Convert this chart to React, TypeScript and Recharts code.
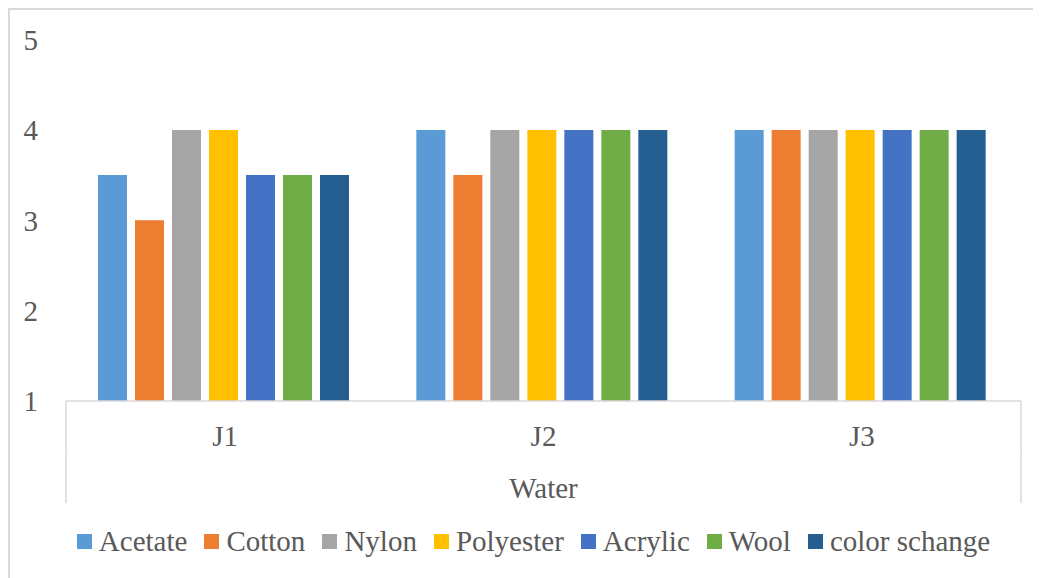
import React from 'react';
import { BarChart, Bar, XAxis, YAxis, Legend } from 'recharts';

// Grey-scale rating per fabric, grouped by test series
const categories = ['J1', 'J2', 'J3'];
const groupLabel = 'Water';
const acetate = [3.5, 4, 4];
const cotton = [3, 3.5, 4];
const nylon = [4, 4, 4];
const polyester = [4, 4, 4];
const acrylic = [3.5, 4, 4];
const wool = [3.5, 4, 4];
const colorChange = [3.5, 4, 4];
const yTicks = [1, 2, 3, 4, 5];

const series = [
  { key: 'Acetate', values: acetate, color: '#5B9BD5' },
  { key: 'Cotton', values: cotton, color: '#ED7D31' },
  { key: 'Nylon', values: nylon, color: '#A5A5A5' },
  { key: 'Polyester', values: polyester, color: '#FFC000' },
  { key: 'Acrylic', values: acrylic, color: '#4472C4' },
  { key: 'Wool', values: wool, color: '#70AD47' },
  { key: 'color schange', values: colorChange, color: '#255E91' },
];

const data = categories.map((cat, i) => {
  const row: Record<string, string | number> = { cat };
  series.forEach((s) => {
    row[s.key] = s.values[i];
  });
  return row;
});

const FONT = 'Liberation Serif, serif';
const FONT_SIZE = 29;
const TEXT = '#595959';
const LINE = '#d9d9d9';

// Two-level category axis: series label, group label and the enclosing frame
const CategoryTick = (props: any) => {
  const { x, y, payload, index, visibleTicksCount } = props;
  const half = payload && payload.offset ? payload.offset : 0;
  const last = (visibleTicksCount || categories.length) - 1;
  return (
    <g>
      <text x={x} y={y + 35} textAnchor="middle" dominantBaseline="central" fill={TEXT} fontSize={FONT_SIZE} fontFamily={FONT}>
        {payload.value}
      </text>
      {index === Math.floor(last / 2) && (
        <text x={x} y={y + 87} textAnchor="middle" dominantBaseline="central" fill={TEXT} fontSize={FONT_SIZE} fontFamily={FONT}>
          {groupLabel}
        </text>
      )}
      {index === 0 && (
        <g>
          <line x1={x - half} y1={y} x2={x - half} y2={y + 102} stroke={LINE} strokeWidth={1.5} />
          <line x1={x - half} y1={y + 51} x2={x - half + 3} y2={y + 51} stroke="#eeeeee" strokeWidth={1} />
        </g>
      )}
      {index === last && (
        <g>
          <line x1={x + half} y1={y} x2={x + half} y2={y + 102} stroke={LINE} strokeWidth={1.5} />
          <line x1={x + half} y1={y + 51} x2={x + half - 3} y2={y + 51} stroke="#eeeeee" strokeWidth={1} />
        </g>
      )}
    </g>
  );
};

const LegendContent = () => (
  <div
    style={{
      height: 50,
      display: 'flex',
      alignItems: 'center',
      justifyContent: 'center',
      paddingLeft: 36,
      fontFamily: FONT,
      fontSize: FONT_SIZE,
      color: TEXT,
    }}
  >
    {series.map((s, i) => (
      <div key={s.key} style={{ display: 'flex', alignItems: 'center', marginLeft: i === 0 ? 0 : 17 }}>
        <span style={{ width: 15, height: 15, background: s.color, marginRight: 7, display: 'inline-block' }} />
        <span style={{ lineHeight: '30px', fontFamily: FONT }}>{s.key}</span>
      </div>
    ))}
  </div>
);

export default function App() {
  return (
    <div
      style={{
        width: 1031,
        height: 568,
        borderTop: `2px solid ${LINE}`,
        borderLeft: `2px solid ${LINE}`,
        background: '#fff',
        fontFamily: FONT,
      }}
    >
      <BarChart
        width={1031}
        height={568}
        data={data}
        margin={{ top: 29.5, right: 20, left: 0, bottom: 12 }}
        barCategoryGap={32}
        barGap={8}
        style={{ fontFamily: FONT }}
      >
        <XAxis
          dataKey="cat"
          axisLine={{ stroke: LINE, strokeWidth: 1.5 }}
          tickLine={false}
          tickSize={0}
          tickMargin={0}
          height={115}
          interval={0}
          tick={<CategoryTick />}
        />
        <YAxis
          width={56}
          domain={[1, 5]}
          ticks={yTicks}
          axisLine={false}
          tickLine={false}
          tickMargin={22}
          tick={{ fill: TEXT, fontSize: FONT_SIZE, fontFamily: FONT }}
        />
        <Legend verticalAlign="bottom" height={50} content={<LegendContent />} />
        {series.map((s) => (
          <Bar key={s.key} dataKey={s.key} fill={s.color} isAnimationActive={false} />
        ))}
      </BarChart>
    </div>
  );
}
